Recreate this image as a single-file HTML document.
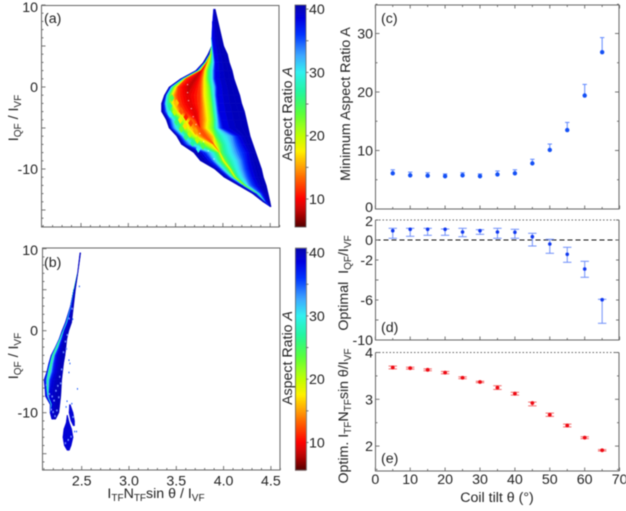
<!DOCTYPE html>
<html lang="en">
<head>
<meta charset="utf-8">
<title>Aspect ratio optimisation chart</title>
<style>
html,body{margin:0;padding:0;background:#fff;}
svg{display:block;filter:blur(.4px);font-family:"Liberation Sans",sans-serif;font-size:14.2px;fill:#222;}
.frame{fill:none;stroke:#666;stroke-width:1;}
.sub{font-size:10px;}
</style>
</head>
<body>
<svg id="chart" xmlns="http://www.w3.org/2000/svg" width="626" height="511" viewBox="0 0 626 511">
  <rect x="0" y="0" width="626" height="511" fill="#fff"/>

  <g id="fieldA"></g>
  <g id="fieldB"></g>
  <g id="barA"></g>
  <g id="barB"></g>
  <g id="marksC"></g>
  <g id="marksD"></g>
  <g id="marksE"></g>
  <g id="axes"></g>

  <rect class="frame" x="41.5" y="5.5" width="237.5" height="221.5"/>
  <rect class="frame" x="42.5" y="248" width="237.5" height="222"/>
  <rect class="frame" x="375.5" y="5" width="243.5" height="204"/>
  <path class="frame" d="M375.5 220V340H619V220"/>
  <path class="frame" d="M375.5 220H619" stroke-dasharray="1.5 2"/>
  <path class="frame" d="M375.5 352.5V471H619V352.5"/>
  <path class="frame" d="M375.5 352.5H619" stroke-dasharray="1.5 2"/>

  <text x="44" y="23">(a)</text>
  <text x="44" y="267">(b)</text>
  <text x="381" y="23">(c)</text>
  <text x="381" y="332">(d)</text>
  <text x="381" y="463">(e)</text>

  <text transform="translate(18,118) rotate(-90)" text-anchor="middle">I<tspan class="sub" dy="3">QF</tspan><tspan dy="-3"> / I</tspan><tspan class="sub" dy="3">VF</tspan></text>
  <text transform="translate(18,356) rotate(-90)" text-anchor="middle">I<tspan class="sub" dy="3">QF</tspan><tspan dy="-3"> / I</tspan><tspan class="sub" dy="3">VF</tspan></text>
  <text transform="translate(292,114) rotate(-90)" text-anchor="middle">Aspect Ratio <tspan font-style="italic">A</tspan></text>
  <text transform="translate(292,358) rotate(-90)" text-anchor="middle">Aspect Ratio <tspan font-style="italic">A</tspan></text>
  <text x="156" y="498" text-anchor="middle">I<tspan class="sub" dy="3">TF</tspan><tspan dy="-3">N</tspan><tspan class="sub" dy="3">TF</tspan><tspan dy="-3">sin θ / I</tspan><tspan class="sub" dy="3">VF</tspan></text>
  <text transform="translate(350,104) rotate(-90)" text-anchor="middle">Minimum Aspect Ratio A</text>
  <text transform="translate(348,283) rotate(-90)" text-anchor="middle">Optimal&#160;&#160;I<tspan class="sub" dy="3">QF</tspan><tspan dy="-3">/I</tspan><tspan class="sub" dy="3">VF</tspan></text>
  <text transform="translate(348,416) rotate(-90)" text-anchor="middle">Optim. I<tspan class="sub" dy="3">TF</tspan><tspan dy="-3">N</tspan><tspan class="sub" dy="3">TF</tspan><tspan dy="-3">sin θ/I</tspan><tspan class="sub" dy="3">VF</tspan></text>
  <text x="497" y="502" text-anchor="middle">Coil tilt θ (°)</text>
</svg>

<script>
// ---------- panels c, d, e data ----------
const tilt = [5,10,15,20,25,30,35,40,45,50,55,60,65];
const minAspect = [6.1,5.75,5.7,5.6,5.75,5.6,5.9,6.1,7.8,10.1,13.5,19.4,26.8];
const minAspectUpper = [6.7,6.3,6.2,6.0,6.2,6.0,6.5,6.7,8.5,11.1,14.8,21.3,29.3];
const optQF = [0.93,1.07,1.07,1.07,0.8,0.93,0.8,0.77,0.33,-0.4,-1.43,-2.9,-5.97];
const optQFUpper = [1.17,1.17,1.17,1.1,1.17,1.03,1.17,1.07,0.67,0.07,-0.73,-2.13,-5.93];
const optQFLower = [0.17,0.37,0.47,0.47,0.33,0.57,0.17,0.17,-0.6,-1.33,-2.23,-3.73,-8.33];
const optTF = [3.68,3.665,3.63,3.57,3.46,3.37,3.25,3.12,2.92,2.67,2.44,2.18,1.91];
const optTFUpper = [3.71,3.685,3.65,3.595,3.48,3.385,3.29,3.15,2.94,2.705,2.47,2.2,1.925];
const optTFLower = [3.65,3.645,3.61,3.545,3.44,3.355,3.21,3.09,2.86,2.635,2.41,2.16,1.895];

// ---------- tick labels ----------
const fieldYLabels = [10,0,-10];
const fieldXLabels = [2.5,3.0,3.5,4.0,4.5];
const barLabels = [40,30,20,10];
const cLabels = [30,20,10,0];
const dLabels = [2,0,-2,-6,-10];
const eLabels = [4,3,2];
const tiltLabels = [0,10,20,30,40,50,60,70];

// ---------- colour map (aspect ratio to colour) ----------
const cmapLevels = [5.6,7.5,10,14,17.5,20,23.5,27,30,32.5,36,38.5,40.6];
const cmapReds = [85,170,255,255,255,190,90,30,50,60,0,0,0];
const cmapGreens = [0,0,0,125,240,255,255,245,240,170,50,0,0];
const cmapBlues = [0,0,0,0,0,0,60,160,240,255,255,225,170];

// ---------- heatmap (a): bands of constant A, edges in ITF at each IQF row ----------
const bandValuesA = [40,33,27,20,14,10,8,10,14,20,27,31,36,40];
const rowLevelsA = [9.5,8,6,5,4,3,2,1,0,-1,-2,-3,-4,-5,-6,-7,-8,-9,-10,-11,-12,-13,-14,-14.6];
const rowEdgesA = [
[3.90,3.90,3.90,3.90,3.90,3.90,3.90,3.90,3.90,3.90,3.90,3.90,3.90,3.90,3.92],
[3.89,3.89,3.89,3.89,3.89,3.89,3.89,3.89,3.89,3.89,3.89,3.89,3.89,3.89,3.95],
[3.88,3.88,3.88,3.88,3.88,3.88,3.88,3.88,3.88,3.88,3.88,3.88,3.88,3.89,3.99],
[3.88,3.88,3.88,3.88,3.88,3.88,3.88,3.88,3.88,3.88,3.88,3.88,3.89,3.90,4.01],
[3.84,3.86,3.86,3.87,3.87,3.87,3.87,3.87,3.87,3.87,3.88,3.89,3.90,3.91,4.05],
[3.79,3.81,3.81,3.82,3.83,3.83,3.83,3.83,3.83,3.84,3.87,3.89,3.91,3.92,4.07],
[3.71,3.73,3.74,3.75,3.76,3.77,3.77,3.77,3.79,3.81,3.84,3.88,3.90,3.92,4.10],
[3.55,3.57,3.58,3.59,3.60,3.61,3.68,3.73,3.77,3.80,3.84,3.88,3.90,3.92,4.12],
[3.43,3.45,3.46,3.48,3.51,3.53,3.61,3.68,3.76,3.80,3.86,3.89,3.92,3.94,4.15],
[3.38,3.40,3.41,3.44,3.47,3.52,3.63,3.63,3.76,3.80,3.87,3.90,3.92,3.94,4.18],
[3.35,3.38,3.40,3.44,3.48,3.54,3.65,3.65,3.76,3.81,3.88,3.91,3.93,3.95,4.20],
[3.35,3.39,3.42,3.47,3.52,3.58,3.71,3.71,3.76,3.82,3.89,3.92,3.94,3.96,4.23],
[3.40,3.44,3.48,3.55,3.62,3.70,3.73,3.73,3.76,3.83,3.90,3.93,3.95,3.98,4.25],
[3.43,3.46,3.51,3.57,3.65,3.76,3.76,3.76,3.76,3.82,3.90,3.93,3.96,4.00,4.27],
[3.51,3.55,3.59,3.65,3.73,3.81,3.81,3.81,3.81,3.90,3.92,4.00,4.10,4.16,4.29],
[3.56,3.61,3.68,3.79,3.89,3.91,3.91,3.91,3.91,3.91,3.97,4.04,4.12,4.20,4.32],
[3.69,3.81,3.89,3.95,3.97,3.97,3.97,3.97,3.97,3.97,3.98,4.06,4.15,4.25,4.35],
[3.76,3.88,3.93,3.99,4.01,4.01,4.01,4.01,4.01,4.01,4.03,4.11,4.19,4.26,4.38],
[3.91,3.97,4.01,4.06,4.08,4.08,4.08,4.08,4.08,4.08,4.09,4.14,4.21,4.28,4.41],
[4.01,4.07,4.10,4.12,4.13,4.13,4.13,4.13,4.13,4.13,4.14,4.18,4.24,4.31,4.43],
[4.16,4.21,4.22,4.23,4.24,4.24,4.24,4.24,4.24,4.24,4.24,4.25,4.28,4.35,4.46],
[4.31,4.35,4.37,4.37,4.37,4.37,4.37,4.37,4.37,4.37,4.37,4.38,4.39,4.42,4.48],
[4.42,4.45,4.45,4.45,4.45,4.45,4.45,4.45,4.45,4.45,4.45,4.45,4.45,4.46,4.50],
[4.50,4.50,4.50,4.50,4.50,4.50,4.50,4.50,4.50,4.50,4.50,4.50,4.50,4.50,4.51]
];
// mottled cells along the lower left edge of (a)
const patchItf = [3.46,3.51,3.44,3.49,3.44,3.56,3.61,3.55,3.51,3.66,3.60,3.56,3.71,3.65,3.61,3.73,3.68,3.79,3.74];
const patchIqf = [-1.34,-1.95,-2.32,-3.05,-3.3,-2.93,-3.66,-4.02,-4.27,-4.39,-4.76,-5.12,-5.37,-5.73,-6.1,-6.46,-6.83,-7.2,-7.56];
const patchAspect = [24,16,27,20,30,13,11,18,26,12,17,23,15,20,26,20,27,24,30];
// pale ridge of unfilled cells inside (a)
const ridgeItf = [3.62,3.62,3.63,3.66,3.68,3.71,3.75,3.79,3.84,3.90];
const ridgeIqf = [0.37,-0.61,-1.59,-2.56,-3.54,-4.5,-5.6,-6.6,-7.7,-8.7];

// ---------- heatmap (b) ----------
const bandValuesB = [39,34,25,37,40];
const rowLevelsB = [9.5,7,5,3,1,0,-1,-2,-3,-4,-5,-6,-7,-8,-9,-10,-10.8];
const rowEdgesB = [
[2.48,2.48,2.48,2.48,2.48,2.49],
[2.455,2.455,2.455,2.455,2.455,2.46],
[2.415,2.415,2.415,2.42,2.42,2.435],
[2.38,2.385,2.39,2.39,2.395,2.415],
[2.325,2.335,2.34,2.345,2.355,2.395],
[2.29,2.30,2.305,2.31,2.32,2.365],
[2.26,2.265,2.27,2.28,2.30,2.345],
[2.22,2.225,2.23,2.25,2.27,2.335],
[2.175,2.185,2.19,2.21,2.24,2.325],
[2.15,2.16,2.17,2.19,2.23,2.31],
[2.13,2.14,2.15,2.175,2.22,2.30],
[2.10,2.12,2.135,2.15,2.19,2.29],
[2.11,2.125,2.135,2.15,2.17,2.285],
[2.115,2.135,2.145,2.15,2.155,2.28],
[2.165,2.175,2.18,2.185,2.19,2.27],
[2.165,2.17,2.17,2.17,2.17,2.26],
[2.185,2.185,2.185,2.185,2.185,2.225]
];
const islandValues = [39];
const islandLevelsOne = [-10.3,-11.2,-12,-13,-14,-14.6];
const islandEdgesOne = [[2.345,2.35],[2.335,2.37],[2.31,2.395],[2.30,2.41],[2.315,2.39],[2.345,2.37]];
const islandLevelsTwo = [-9,-10,-11,-11.6];
const islandEdgesTwo = [[2.37,2.38],[2.365,2.41],[2.385,2.425],[2.41,2.425]];
const strayX = [2.36,2.37,2.36,2.45,2.42,2.44,2.39,2.34,2.33,2.40,2.47];
const strayY = [-3.5,-3.9,-5,-7,-12.2,-12.2,-8.8,-8.5,-9.2,1.5,5.5];
// unfilled specks that make the edges of (b) ragged
const speckX = [2.12,2.15,2.18,2.20,2.22,2.17,2.14,2.27,2.25,2.23,2.28,2.26,2.21,2.19,2.24,2.30,2.32,2.34,2.33,2.36,2.39,2.32,2.35,2.38,2.40];
const speckY = [-6.5,-7.6,-7.9,-8.4,-7.2,-9.5,-7.9,-6.3,-8,-9.6,-4.6,-5.5,-10.3,-9.8,-6.6,-2.5,-1.2,-0.4,-2.1,1.6,2.8,-13.6,-13.2,-12.8,-10.4];

// ---------- axis functions ----------
const xA = v => 81 + (v - 2.5) * 94.6;
const yA = v => 87 - v * 8.2;
const xB = v => 81.7 + (v - 2.5) * 94.6;
const yB = v => 330.7 - v * 8.2;
const yBarA = v => 199 - (v - 10) * 6.33;
const yBarB = v => 442.5 - (v - 10) * 6.33;
const xTilt = v => 375.3 + v * 3.49;
const yC = v => 209 - v * 5.85;
const yD = v => 240 - v * 10;
const yE = v => 399.3 - (v - 3) * 46.8;

const NS = 'http://www.w3.org/2000/svg';
function mk(tag, attrs, parent) {
  const el = document.createElementNS(NS, tag);
  for (const k in attrs) el.setAttribute(k, attrs[k]);
  parent.appendChild(el);
  return el;
}
function colour(a) {
  let i = 0;
  while (i < cmapLevels.length - 2 && a > cmapLevels[i + 1]) i++;
  const t = Math.max(0, Math.min(1, (a - cmapLevels[i]) / (cmapLevels[i + 1] - cmapLevels[i])));
  const mix = arr => Math.round(arr[i] + (arr[i + 1] - arr[i]) * t);
  return 'rgb(' + mix(cmapReds) + ',' + mix(cmapGreens) + ',' + mix(cmapBlues) + ')';
}
const SLICES = 4;
function drawField(group, values, levels, edges, xf, yf) {
  for (let r = 0; r < levels.length - 1; r++) {
    for (let b = 0; b < values.length; b++) {
      const a0 = edges[r][b], a1 = edges[r][b + 1], c0 = edges[r + 1][b], c1 = edges[r + 1][b + 1];
      if (a1 <= a0 && c1 <= c0) continue;
      const prev = b > 0 ? values[b - 1] : values[b];
      const next = b < values.length - 1 ? values[b + 1] : values[b];
      for (let s = 0; s < SLICES; s++) {
        const t0 = s / SLICES, t1 = (s + 1) / SLICES, tm = (t0 + t1) / 2;
        const val = tm < 0.5
          ? values[b] + (prev - values[b]) * (0.5 - tm)
          : values[b] + (next - values[b]) * (tm - 0.5);
        const col = colour(val);
        const p = [
          [a0 + (a1 - a0) * t0, levels[r]],
          [a0 + (a1 - a0) * t1, levels[r]],
          [c0 + (c1 - c0) * t1, levels[r + 1]],
          [c0 + (c1 - c0) * t0, levels[r + 1]]
        ];
        const pts = p.map(q => xf(q[0]).toFixed(2) + ',' + yf(q[1]).toFixed(2)).join(' ');
        const cell = mk('polygon', {points: pts, fill: col, stroke: col, 'stroke-width': 0.35}, group);
        
        
      }
    }
  }
}
function drawBar(group, yf) {
  for (let a = 5.6; a < 40.6; a += 0.16) {
    const seg = mk('rect', {x: 295, width: 11, y: yf(a + 0.16).toFixed(2), height: 1.3, fill: colour(a)}, group);
    
    
  }
}
function drawSeries(group, values, uppers, lowers, yf, barColour, dotColour, capHalf, radius) {
  tilt.forEach((t, i) => {
    const x = xTilt(t);
    const top = yf(uppers[i]);
    const bot = lowers ? yf(lowers[i]) : yf(values[i]);
    const stem = mk('line', {x1: x, x2: x, y1: top, y2: bot, stroke: barColour, 'stroke-width': 1}, group);
    
    
    const capTop = mk('line', {x1: x - capHalf, x2: x + capHalf, y1: top, y2: top, stroke: barColour, 'stroke-width': 1}, group);
    
    
    if (lowers) {
      const capBot = mk('line', {x1: x - capHalf, x2: x + capHalf, y1: bot, y2: bot, stroke: barColour, 'stroke-width': 1}, group);
      
      
    }
    const dot = mk('circle', {cx: x, cy: yf(values[i]), r: radius, fill: dotColour}, group);
    
    
  });
}
const axes = document.getElementById('axes');
function tickY(v, fn, x, dir, len) {
  const t = mk('line', {x1: x, x2: x + dir * len, y1: fn(v), y2: fn(v), stroke: '#666', 'stroke-width': 0.9}, axes);
  
  
}
function tickX(v, fn, y, dir, len) {
  const t = mk('line', {x1: fn(v), x2: fn(v), y1: y, y2: y + dir * len, stroke: '#666', 'stroke-width': 0.9}, axes);
  
  
}
function label(str, x, y, anchor) {
  const t = mk('text', {x: x, y: y, 'text-anchor': anchor}, axes);
  t.textContent = str;
  
  
}

// ---------- draw heatmaps ----------
const fieldA = document.getElementById('fieldA');
drawField(fieldA, bandValuesA, rowLevelsA, rowEdgesA, xA, yA);
patchItf.forEach((x, i) => {
  const cx = xA(x), cy = yA(patchIqf[i]);
  const pts = [[cx, cy - 4], [cx + 2.5, cy], [cx, cy + 4], [cx - 2.5, cy]].map(q => q.join(',')).join(' ');
  const cell = mk('polygon', {points: pts, fill: colour(patchAspect[i])}, fieldA);
  
  
});
ridgeItf.forEach((x, i) => {
  const cell = mk('rect', {x: xA(x), y: yA(ridgeIqf[i]), width: 1.2, height: 1.2, fill: '#fff', opacity: 0.65}, fieldA);
  
  
});
const fieldB = document.getElementById('fieldB');
drawField(fieldB, bandValuesB, rowLevelsB, rowEdgesB, xB, yB);
drawField(fieldB, islandValues, islandLevelsOne, islandEdgesOne, xB, yB);
drawField(fieldB, islandValues, islandLevelsTwo, islandEdgesTwo, xB, yB);
strayX.forEach((x, i) => {
  const dot = mk('rect', {x: xB(x), y: yB(strayY[i]), width: 1, height: 1.6, fill: colour(35)}, fieldB);
  
  
});
speckX.forEach((x, i) => {
  const dot = mk('rect', {x: xB(x), y: yB(speckY[i]), width: 1.5, height: 2, fill: '#6f8cff'}, fieldB);
  
  
});
drawBar(document.getElementById('barA'), yBarA);
drawBar(document.getElementById('barB'), yBarB);

// ---------- zero line, series ----------
const zero = mk('line', {x1: 375.5, x2: 619, y1: yD(0), y2: yD(0), stroke: '#111', 'stroke-width': 1, 'stroke-dasharray': '5 3'}, document.getElementById('marksD'));


drawSeries(document.getElementById('marksC'), minAspect, minAspectUpper, null, yC, '#5f88ff', '#1450f5', 2.2, 2.2);
drawSeries(document.getElementById('marksD'), optQF, optQFUpper, optQFLower, yD, '#6f8ffa', '#1038f0', 4.2, 1.8);
drawSeries(document.getElementById('marksE'), optTF, optTFUpper, optTFLower, yE, '#f46a6a', '#ee0a14', 4.2, 1.9);

// ---------- ticks and labels: heat panels ----------
for (let v = -17; v <= 10; v++) {
  const major = v % 5 === 0;
  tickY(v, yA, 41.5, 1, major ? 4 : 2);
  tickY(v, yB, 42.5, 1, major ? 4 : 2);
}
for (let n = 21; n <= 46; n++) {
  const v = n / 10;
  const major = n % 5 === 0;
  tickX(v, xA, 227, -1, major ? 4 : 2);
  tickX(v, xB, 470, -1, major ? 4 : 2);
}
fieldYLabels.forEach(v => {
  label(String(v), 38, v === 10 ? 12 : yA(v) + 5, 'end');
  label(String(v), 38, v === 10 ? 255 : yB(v) + 5, 'end');
});
fieldXLabels.forEach(v => label(v.toFixed(1), xB(v), 485.5, 'middle'));
for (let v = 10; v <= 40; v += 5) {
  tickY(v, yBarA, 306, 1, 2.5);
  tickY(v, yBarB, 306, 1, 2.5);
}
barLabels.forEach(v => {
  label(String(v), 309, yBarA(v) + 5, 'start');
  label(String(v), 309, yBarB(v) + 5, 'start');
});
const outlineA = mk('rect', {x: 295, y: 5, width: 11, height: 222, fill: 'none', stroke: '#666', 'stroke-width': 0.8}, axes);


const outlineB = mk('rect', {x: 295.5, y: 248, width: 11, height: 222, fill: 'none', stroke: '#666', 'stroke-width': 0.8}, axes);



// ---------- ticks and labels: right panels ----------
for (let v = 0; v <= 35; v += 5) {
  tickY(v, yC, 375.5, 1, v % 10 === 0 ? 4 : 2);
  tickY(v, yC, 619, -1, v % 10 === 0 ? 4 : 2);
}
for (let v = -10; v <= 2; v += 2) {
  tickY(v, yD, 375.5, 1, 3);
  tickY(v, yD, 619, -1, 3);
}
for (let n = 3; n <= 8; n++) {
  tickY(n / 2, yE, 375.5, 1, n % 2 === 0 ? 4 : 2);
  tickY(n / 2, yE, 619, -1, n % 2 === 0 ? 4 : 2);
}
for (let v = 0; v <= 70; v += 5) {
  const len = v % 10 === 0 ? 3.5 : 2;
  tickX(v, xTilt, 209, -1, len);
  tickX(v, xTilt, 340, -1, len);
  tickX(v, xTilt, 471, -1, len);
  tickX(v, xTilt, 5, 1, len);
}
cLabels.forEach(v => label(String(v), 373, v === 0 ? 212 : yC(v) + 5, 'end'));
dLabels.forEach(v => label(String(v), 373, v === 2 ? 226 : yD(v) + 5, 'end'));
eLabels.forEach(v => label(String(v), 373, yE(v) + 5, 'end'));
tiltLabels.forEach(v => label(String(v), xTilt(v), 484, 'middle'));
</script>
</body>
</html>
